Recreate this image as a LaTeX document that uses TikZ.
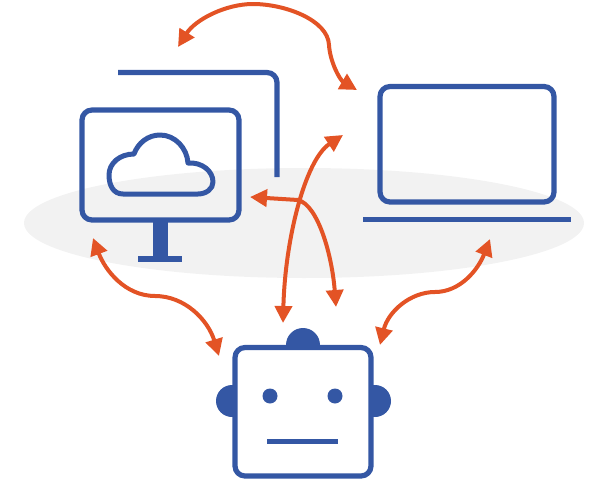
\documentclass[tikz,border=0pt]{standalone}
\usetikzlibrary{arrows.meta}
\definecolor{iconblue}{HTML}{3457A4}
\definecolor{flow}{HTML}{E35325}
\definecolor{disc}{HTML}{F2F2F2}
\tikzset{
  icon/.style={draw=iconblue,line width=5.2pt,rounded corners=10pt},
  iconline/.style={draw=iconblue,line width=5pt},
  link/.style={draw=flow,line width=4pt,{Triangle[length=17pt,width=17pt]}-{Triangle[length=17pt,width=17pt]}},
}
\begin{document}
\begin{tikzpicture}[x=1pt,y=-1pt]
\useasboundingbox (0,0) rectangle (598,482);
\fill[disc] (304,223) ellipse [x radius=280,y radius=55];
% back window
\draw[icon] (118,72.5) -- (277,72.5) -- (277,177);
% monitor
\fill[iconblue] (153,220) rectangle (168,258);
\fill[iconblue] (138,256) rectangle (182,262);
\draw[icon] (82,110) rectangle (239,220);
% cloud
\draw[iconline,line join=round]
  (123,194) .. controls (113,194) and (109,185) .. (109,175)
  .. controls (109,163) and (120,154) .. (134,154)
  .. controls (138,143) and (148,135) .. (160,135)
  .. controls (175,135) and (187,148) .. (188,163)
  .. controls (202,162) and (213,171) .. (213,182)
  .. controls (213,189) and (206,194) .. (198,194) -- cycle;
% laptop
\draw[icon] (380,86.5) rectangle (554,202);
\draw[iconline] (363,219.5) -- (571,219.5);
% robot
\fill[iconblue] (303,345) circle (17);
\fill[iconblue] (232,401) circle (16);
\fill[iconblue] (375,401) circle (16);
\draw[icon,fill=white] (235,347.5) rectangle (371,476);
\fill[iconblue] (270,396) circle (7.5);
\fill[iconblue] (335,396) circle (7.5);
\draw[iconline] (267,441) -- (338,441);
% connection end points
\coordinate (a1) at (178,47);
\coordinate (a2) at (357,90);
\coordinate (b1) at (343,135);
\coordinate (b2) at (283,323);
\coordinate (c1) at (250,197);
\coordinate (c2) at (336,307);
\coordinate (d1) at (93,238);
\coordinate (d2) at (219,356);
\coordinate (e1) at (490,239);
\coordinate (e2) at (380,345);
\draw[link] (a1) .. controls (195,20) and (225,4) .. (253,4)
  .. controls (285,4) and (328,20) .. (329,45)
  .. controls (330,62) and (340,80) .. (a2);
\draw[link] (b1) .. controls (305,160) and (285,240) .. (b2);
\draw[link] (c1) -- (298,200) .. controls (318,205) and (332,255) .. (c2);
\draw[link] (d1) .. controls (105,270) and (125,296) .. (155,296)
  .. controls (185,296) and (208,320) .. (d2);
\draw[link] (e1) .. controls (478,270) and (460,292) .. (435,292)
  .. controls (410,292) and (388,312) .. (e2);
\end{tikzpicture}
\end{document}
